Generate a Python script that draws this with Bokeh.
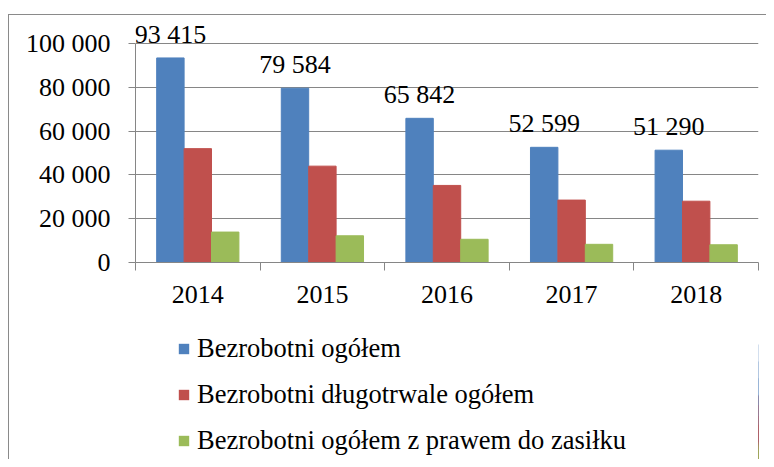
from bokeh.plotting import figure
from bokeh.layouts import column
from bokeh.models import (ColumnDataSource, Range1d, FixedTicker, CustomJSTickFormatter,
                          LabelSet, Legend, LegendItem)
from bokeh.transform import dodge
from bokeh.embed import file_html
from bokeh.resources import INLINE

years = ["2014", "2015", "2016", "2017", "2018"]
ogolem = [93415, 79584, 65842, 52599, 51290]
dlugotrwale = [52000, 44000, 35200, 28500, 28000]
z_prawem = [13900, 12200, 10600, 8300, 8100]
y_ticks = [0, 20000, 40000, 60000, 80000, 100000]
y_tick_labels = ["0", "20 000", "40 000", "60 000", "80 000", "100 000"]
series_names = ["Bezrobotni ogółem", "Bezrobotni długotrwale ogółem",
                "Bezrobotni ogółem z prawem do zasiłku"]
series_cols = ["ogolem", "dlugotrwale", "z_prawem"]
colors = ["#4F81BD", "#C0504D", "#9BBB59"]

FONT = "Liberation Serif"
FS = "26px"
LFS = "26.5px"
GRID = "#868686"
W = 757
N = len(years)

source = ColumnDataSource(dict(
    x=[i + 0.5 for i in range(N)],
    ogolem=ogolem,
    dlugotrwale=dlugotrwale,
    z_prawem=z_prawem,
    lbl=[f"{v:,}".replace(",", " ") for v in ogolem],
))

# main chart; frame extends above the 100 000 gridline so value labels are not clipped
p = figure(width=W, height=305, output_backend="svg", toolbar_location=None,
           x_range=Range1d(0, N), y_range=Range1d(0, 112800),
           min_border_left=126, min_border_right=8, min_border_top=0,
           min_border_bottom=58)
p.outline_line_color = None
p.background_fill_color = "white"
p.border_fill_color = "white"

w = 0.22
offsets = [-w, 0, w]
for col, c, off in zip(series_cols, colors, offsets):
    p.vbar(x=dodge("x", off, range=p.x_range), top=col, width=w, source=source,
           fill_color=c, line_color=c)

labels = LabelSet(x=dodge("x", -w, range=p.x_range), y="ogolem", text="lbl", source=source,
                  y_offset=15, text_align="center", text_baseline="alphabetic",
                  text_font=FONT, text_font_size=FS, text_color="black")
p.add_layout(labels)

# y axis
p.yaxis.ticker = FixedTicker(ticks=y_ticks, minor_ticks=[])
p.yaxis.bounds = (y_ticks[0], y_ticks[-1])
p.yaxis.formatter = CustomJSTickFormatter(args=dict(yt=y_ticks, ylab=y_tick_labels),
                                          code="return ylab[yt.indexOf(tick)];")
p.yaxis.major_tick_in = 0
p.yaxis.major_tick_out = 7
p.yaxis.minor_tick_in = 0
p.yaxis.minor_tick_out = 0
p.yaxis.axis_line_color = GRID
p.yaxis.major_tick_line_color = GRID
p.yaxis.major_label_text_font = FONT
p.yaxis.major_label_text_font_size = FS
p.yaxis.major_label_text_color = "black"
p.yaxis.major_label_standoff = 18

# x axis: labels at category centres, tick marks at category boundaries
p.xaxis.ticker = FixedTicker(ticks=[i + 0.5 for i in range(N)],
                             minor_ticks=list(range(N + 1)))
p.xaxis.formatter = CustomJSTickFormatter(args=dict(cats=years),
                                          code="return cats[Math.floor(tick)];")
p.xaxis.major_tick_in = 0
p.xaxis.major_tick_out = 0
p.xaxis.minor_tick_in = 0
p.xaxis.minor_tick_out = 8
p.xaxis.minor_tick_line_color = GRID
p.xaxis.axis_line_color = GRID
p.xaxis.major_label_text_font = FONT
p.xaxis.major_label_text_font_size = FS
p.xaxis.major_label_text_color = "black"
p.xaxis.major_label_standoff = 15

p.xgrid.grid_line_color = None
p.ygrid.grid_line_color = GRID
p.ygrid.ticker = FixedTicker(ticks=y_ticks)

# legend panel below the chart (zero-width bars outside its x range; only the legend shows)
q = figure(width=W, height=139, output_backend="svg", toolbar_location=None,
           x_range=Range1d(-2 * N, -N), y_range=Range1d(0, 112800),
           min_border_left=126, min_border_right=8, min_border_top=0, min_border_bottom=0)
q.axis.visible = False
q.grid.grid_line_color = None
q.outline_line_color = None
q.background_fill_color = "white"
q.border_fill_color = "white"
items = []
for name, col, c in zip(series_names, series_cols, colors):
    r = q.vbar(x="x", top=col, width=0, source=source, fill_color=c, line_color=None)
    items.append(LegendItem(label=name, renderers=[r]))
legend = Legend(items=items, location=(42, 3), orientation="vertical",
                glyph_width=13, glyph_height=13, label_standoff=7,
                label_height=30, spacing=15, padding=0, margin=0,
                border_line_color=None, background_fill_alpha=0,
                label_text_font=FONT, label_text_font_size=LFS,
                label_text_color="black")
q.add_layout(legend)

layout = column(p, q, spacing=0,
                styles={"margin-top": "14px", "margin-left": "8px",
                        "border-left": "1px solid #8a8a8a",
                        "border-top": "1px solid #8a8a8a"})

open("out.html", "w").write(file_html(layout, INLINE))
